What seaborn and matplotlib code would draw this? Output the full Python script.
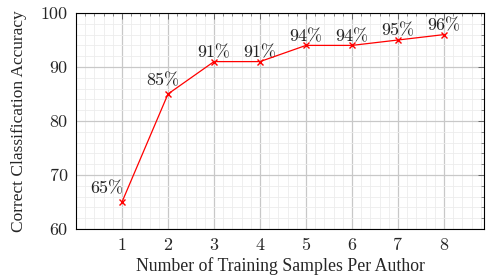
import matplotlib
matplotlib.use("Agg")
import matplotlib.pyplot as plt
import seaborn as sns
import pandas as pd
from matplotlib.ticker import MultipleLocator

samples = [1, 2, 3, 4, 5, 6, 7, 8]
accuracy = [65, 85, 91, 91, 94, 94, 95, 96]
labels = ["65%", "85%", "91%", "91%", "94%", "94%", "95%", "96%"]

sns.set_theme(style="white")
plt.rcParams['font.family'] = ['Liberation Serif', 'DejaVu Serif']

df = pd.DataFrame({"samples": samples, "accuracy": accuracy})

fig = plt.figure(figsize=(4.87, 2.76), dpi=100)
ax = fig.add_axes([76/487, 1-229/276, (484-76)/487, (229-13)/276])

sns.lineplot(data=df, x="samples", y="accuracy", ax=ax, color="red",
             marker="x", markersize=5, markeredgewidth=1.0, markeredgecolor="red",
             linewidth=0.9, zorder=5)

ax.set_xlim(0, 8.87)
ax.set_ylim(60, 100)
ax.xaxis.set_major_locator(MultipleLocator(1))
ax.xaxis.set_minor_locator(MultipleLocator(0.2))
ax.yaxis.set_major_locator(MultipleLocator(10))
ax.yaxis.set_minor_locator(MultipleLocator(2))
ax.set_xticks(samples)

ax.grid(which="major", color="#c8c8c8", linewidth=0.9)
ax.grid(which="minor", color="#ececec", linewidth=0.6)
ax.set_axisbelow(True)

ax.tick_params(which="both", direction="in", top=True, right=True,
               color="#555555")
ax.tick_params(which="major", length=4, width=0.6, labelsize=13, pad=6)
ax.tick_params(which="minor", length=2.5, width=0.5)
for lab in ax.get_xticklabels() + ax.get_yticklabels():
    lab.set_family("cmr10")

for s in ax.spines.values():
    s.set_color("black")
    s.set_linewidth(0.8)

for i, (xv, yv, t) in enumerate(zip(samples, accuracy, labels)):
    if i == 0:
        ax.annotate(t, (xv, yv), xytext=(1, 4), textcoords="offset points",
                    ha="right", va="bottom", fontsize=13, family="cmr10", color="#222222")
    elif i == 1:
        ax.annotate(t, (xv, yv), xytext=(-4, 4), textcoords="offset points",
                    ha="center", va="bottom", fontsize=13, family="cmr10", color="#222222")
    else:
        ax.annotate(t, (xv, yv), xytext=(0, 1), textcoords="offset points",
                    ha="center", va="bottom", fontsize=13, family="cmr10", color="#222222")

ax.set_xlabel("Number of Training Samples Per Author", fontsize=12.8, labelpad=3)
ax.set_ylabel("Correct Classification Accuracy", fontsize=12.5, labelpad=10)

fig.savefig("out.png", dpi=100)
